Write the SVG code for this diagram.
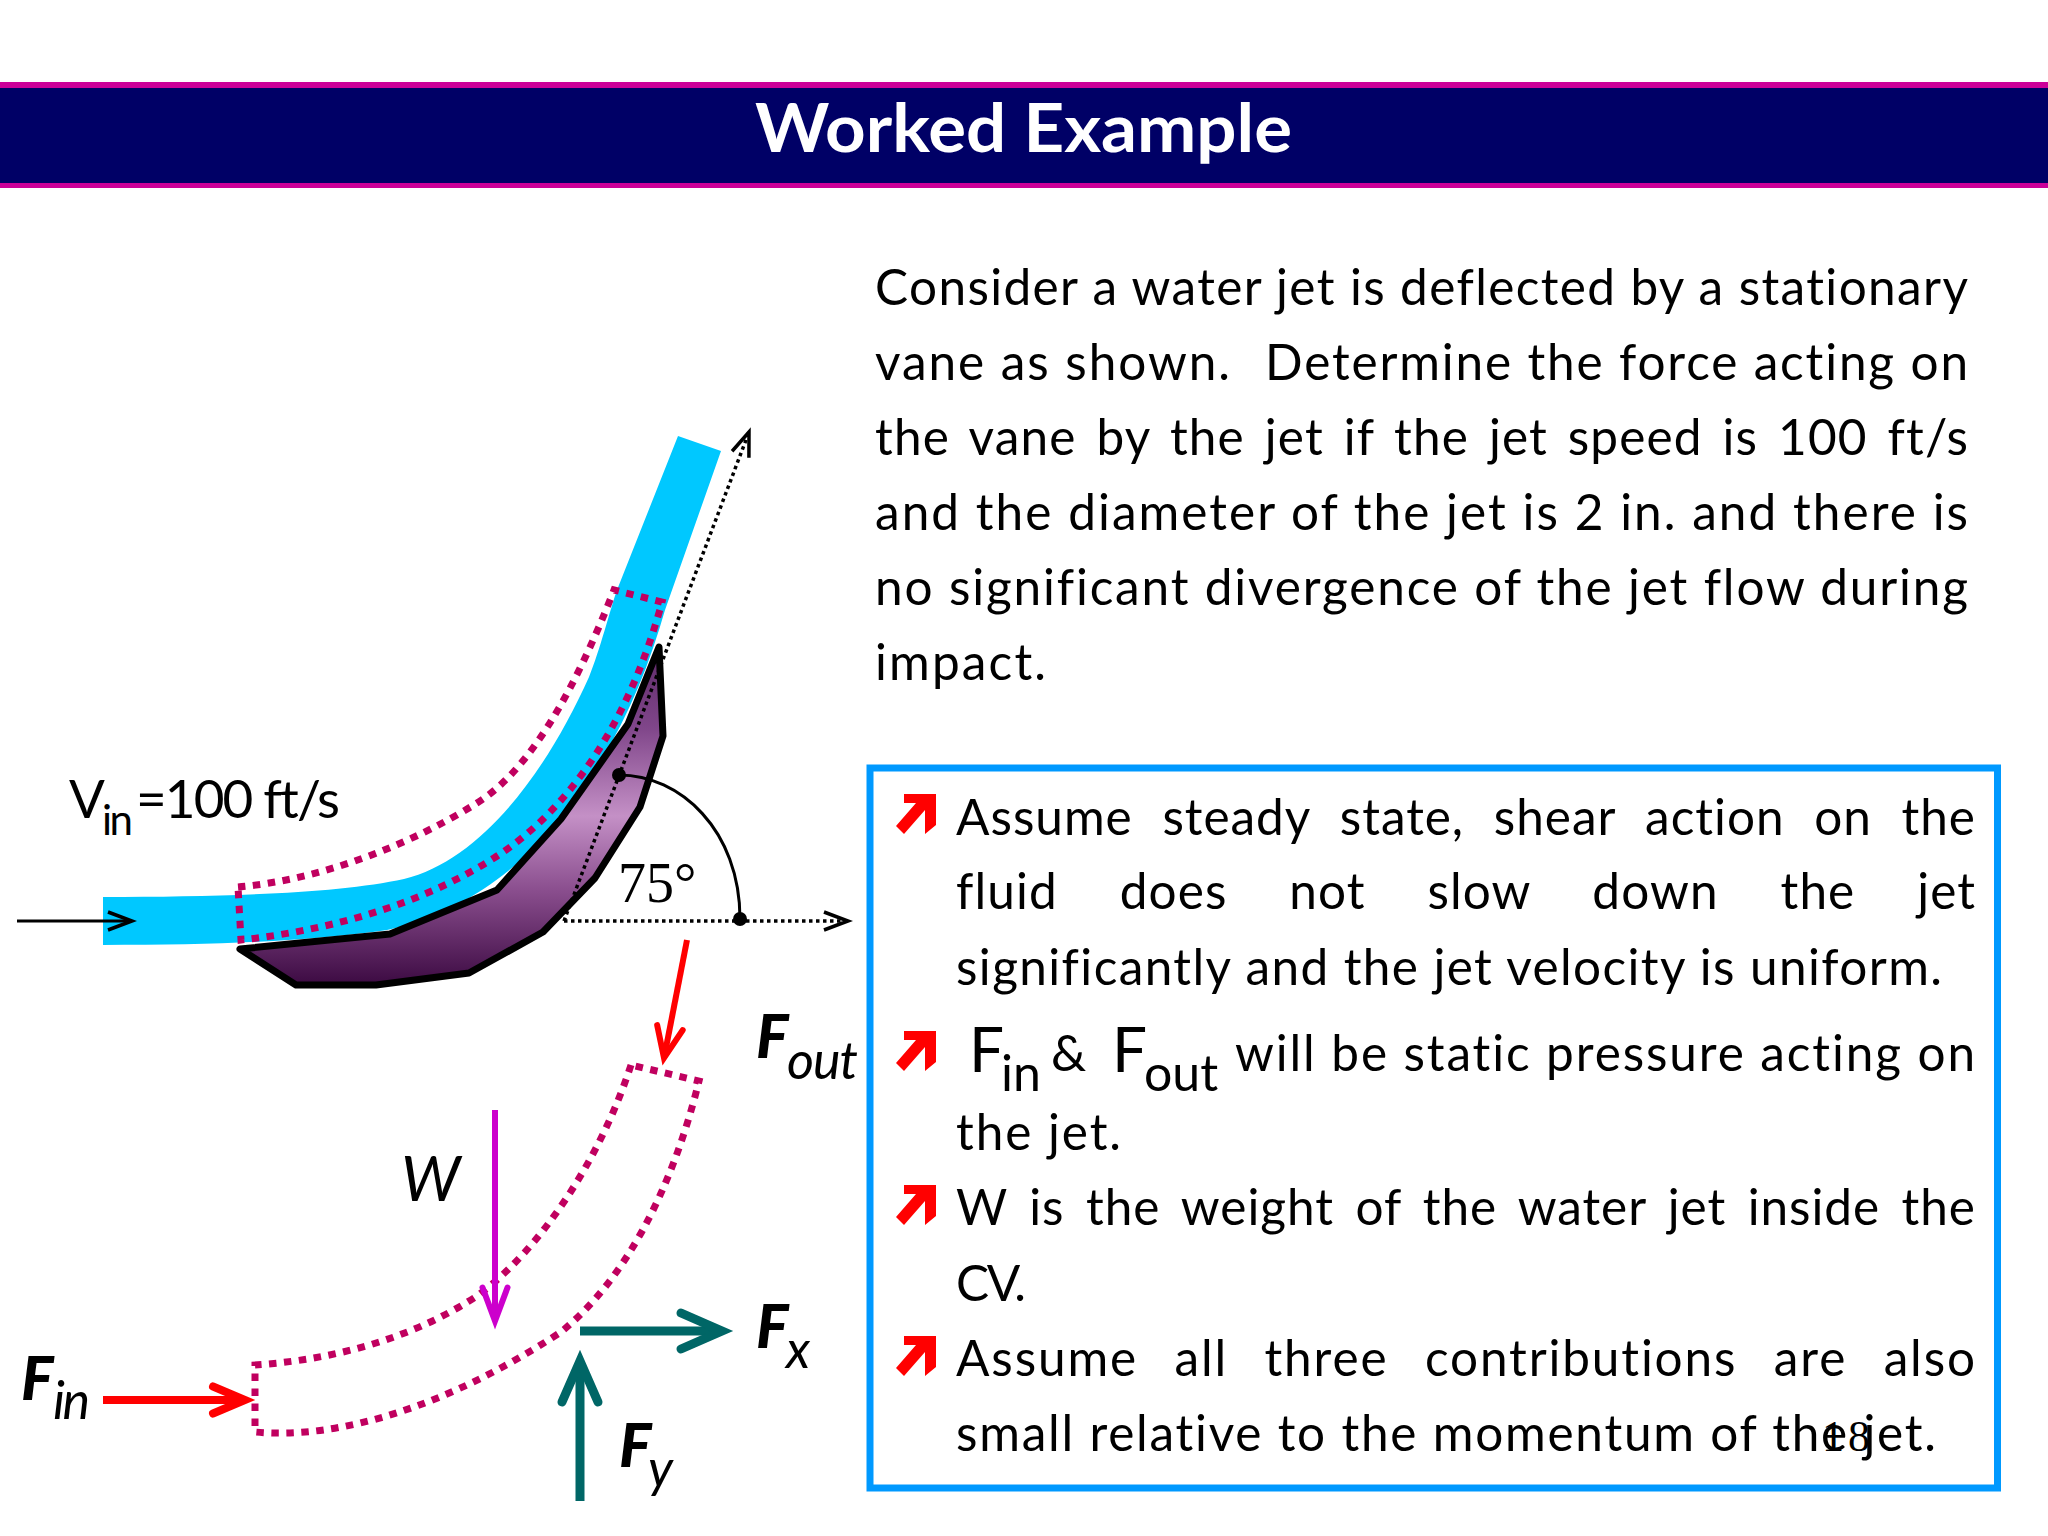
<svg xmlns="http://www.w3.org/2000/svg" xmlns:xlink="http://www.w3.org/1999/xlink" width="2048" height="1536" viewBox="0 0 2048 1536">
<style>
text{font-family:Lato,"Liberation Sans",sans-serif;fill:#000;font-variant-ligatures:none}
.b{font-size:49.500px}
.sub{font-size:50px}
.bigF{font-size:62px}
.lab{font-size:61px;font-weight:900;font-style:italic}
.labs{font-size:52px;font-style:italic}
.cv{fill:none;stroke:#c0005f;stroke-width:7;stroke-dasharray:7.5 7.5}
.dot{fill:none;stroke:#000;stroke-width:3.5;stroke-dasharray:3.5 3.5}
.thin{fill:none;stroke:#000;stroke-width:3}
</style>
<defs>
<linearGradient id="vaneGrad" gradientUnits="userSpaceOnUse" x1="0" y1="647" x2="0" y2="985">
<stop offset="0" stop-color="#5e2a68"/>
<stop offset="0.24" stop-color="#80468a"/>
<stop offset="0.5" stop-color="#c490c6"/>
<stop offset="0.72" stop-color="#8a4e8e"/>
<stop offset="1" stop-color="#3c0a42"/>
</linearGradient>
<marker id="aBlack" markerUnits="userSpaceOnUse" markerWidth="40" markerHeight="40" viewBox="-34 -20 40 40" refX="0" refY="0" orient="auto"><path d="M-24 -9 L0 0 L-24 9" fill="none" stroke="#000" stroke-width="3.5"/></marker>
<marker id="aRed" markerUnits="userSpaceOnUse" markerWidth="70" markerHeight="50" viewBox="-50 -25 70 50" refX="0" refY="0" orient="auto"><path d="M-31 -13 L0 0 L-31 13" fill="none" stroke="#f00" stroke-width="6" stroke-linecap="round"/></marker>
<marker id="aMag" markerUnits="userSpaceOnUse" markerWidth="70" markerHeight="50" viewBox="-50 -25 70 50" refX="0" refY="0" orient="auto"><path d="M-33.500 -12.500 L0 0 L-33.500 12.500" fill="none" stroke="#c0c" stroke-width="6" stroke-linecap="round"/></marker>
<marker id="aRedB" markerUnits="userSpaceOnUse" markerWidth="80" markerHeight="50" viewBox="-55 -25 80 50" refX="0" refY="0" orient="auto"><path d="M-32 -13.500 L0 0 L-32 13.500" fill="none" stroke="#f00" stroke-width="8" stroke-linecap="round"/></marker>
<marker id="aTeal" markerUnits="userSpaceOnUse" markerWidth="90" markerHeight="60" viewBox="-65 -30 90 60" refX="0" refY="0" orient="auto"><path d="M-41 -18 L0 0 L-41 18" fill="none" stroke="#006666" stroke-width="9" stroke-linecap="round"/></marker>
<polygon id="bullet" points="8,0 40,0 40,31 29,40 29,16 8,40 0,32 20,9 8,9" fill="#f00"/>
</defs>
<rect width="2048" height="1536" fill="#fff"/>
<g id="header">
<rect x="0" y="82" width="2048" height="106" fill="#cc0099"/>
<rect x="0" y="88" width="2048" height="95" fill="#000066"/>
<text x="755" y="152" font-size="66" font-weight="700" textLength="537" lengthAdjust="spacingAndGlyphs" style="fill:#fff">Worked Example</text>
</g>
<g id="problem-text">
<text class="b" x="875" y="305" textLength="1093">Consider a water jet is deflected by a stationary</text>
<text class="b" x="875" y="380" textLength="355">vane as shown.</text>
<text class="b" x="1265" y="380" textLength="703">Determine the force acting on</text>
<text class="b" x="875" y="455" textLength="1093" style="word-spacing:6px">the vane by the jet if the jet speed is 100 ft/s</text>
<text class="b" x="875" y="530" textLength="1093">and the diameter of the jet is 2 in. and there is</text>
<text class="b" x="875" y="605" textLength="1093">no significant divergence of the jet flow during</text>
<text class="b" x="875" y="680" textLength="171">impact.</text>
</g>
<g id="assumptions">
<rect x="870" y="768" width="1127.500" height="720" fill="#fff" stroke="#0099ff" stroke-width="7"/>
<use xlink:href="#bullet" x="896" y="794"/>
<use xlink:href="#bullet" x="896" y="1031"/>
<use xlink:href="#bullet" x="896" y="1185"/>
<use xlink:href="#bullet" x="896" y="1336"/>
<text class="b" x="956" y="835" textLength="1019" style="word-spacing:16px">Assume steady state, shear action on the</text>
<text class="b" x="956" y="909" textLength="1019" style="word-spacing:48px">fluid does not slow down the jet</text>
<text class="b" x="956" y="985" textLength="986">significantly and the jet velocity is uniform.</text>
<text class="bigF" x="969" y="1072">F</text>
<text class="sub" x="1001" y="1091">in</text>
<text class="b" x="1051" y="1071">&amp;</text>
<text class="bigF" x="1112" y="1072">F</text>
<text class="sub" x="1144" y="1091">out</text>
<text class="b" x="1235" y="1071" textLength="740">will be static pressure acting on</text>
<text class="b" x="956" y="1150" textLength="165">the jet.</text>
<text class="b" x="956" y="1225" textLength="1019" style="word-spacing:8px">W is the weight of the water jet inside the</text>
<text class="b" x="956" y="1301" textLength="70">CV.</text>
<text class="b" x="956" y="1376" textLength="1019" style="word-spacing:22px">Assume all three contributions are also</text>
<text class="b" x="956" y="1451" textLength="980">small relative to the momentum of the jet.</text>
<text x="1822" y="1451" font-size="44" textLength="48" style="font-family:'Liberation Serif',serif">18</text>
</g>
<g id="jet">
<path d="M103 897 C230 897 340 893 404 879 C480 860 545 775 589 677 C600 650 610 610 617 590 L678 436 L721 451 L665 610 C645 680 615 750 561 819 C520 868 460 915 387 930 C320 940 230 945 103 945 Z" fill="#00c8ff"/>
</g>
<g id="vane">
<polygon points="240,949 390,934 497,890 561,819 628,724 659,647 663,736 640,807 595,878 543,932 469,973 376,985 296,985" fill="url(#vaneGrad)" stroke="#000" stroke-width="7" stroke-linejoin="round"/>
</g>
<g id="control-volume-top">
<path class="cv" d="M238 887 C320 880 410 845 477 803 C530 770 575 690 614 590 L662 602 C630 720 570 810 494 858 C420 905 330 930 241 940 Z"/>
</g>
<g id="control-volume-bottom">
<path class="cv" d="M631 1065 C600 1160 540 1250 477 1296 C410 1340 330 1360 255 1365 L255 1432 C340 1440 450 1405 561 1332 C625 1280 672 1190 699 1081 Z"/>
</g>
<g id="connectors">
<line class="thin" x1="17" y1="921" x2="132" y2="921" marker-end="url(#aBlack)"/>
<line class="dot" x1="564" y1="921" x2="848" y2="921" marker-end="url(#aBlack)"/>
<line class="dot" x1="564" y1="921" x2="749" y2="432" marker-end="url(#aBlack)"/>
<path class="thin" d="M619 775 C680 775 740 830 740 919"/>
<line x1="687" y1="940" x2="664" y2="1058" stroke="#f00" stroke-width="6" marker-end="url(#aRed)"/>
<line x1="495" y1="1110" x2="495" y2="1321" stroke="#c0c" stroke-width="6" marker-end="url(#aMag)"/>
<line x1="103" y1="1400" x2="245" y2="1400" stroke="#f00" stroke-width="8" marker-end="url(#aRedB)"/>
<line x1="580" y1="1331" x2="722" y2="1331" stroke="#006666" stroke-width="9" marker-end="url(#aTeal)"/>
<line x1="580" y1="1501" x2="580" y2="1361" stroke="#006666" stroke-width="9" marker-end="url(#aTeal)"/>
</g>
<g id="angle">
<circle cx="619" cy="775" r="7"/>
<circle cx="740" cy="919" r="7"/>
<text x="618" y="902" font-size="56" style="font-family:'Liberation Serif',serif">75°</text>
</g>
<g id="labels">
<text x="69" y="818" font-size="53">V</text>
<text x="102" y="835" font-size="42" textLength="31">in</text>
<text x="136" y="818" font-size="53" textLength="204">=100 ft/s</text>
<text class="lab" x="756" y="1058">F</text><text class="labs" x="787" y="1079" textLength="71">out</text>
<text x="401" y="1201" font-size="62" font-style="italic" textLength="60">W</text>
<text class="lab" x="21" y="1400">F</text><text class="labs" x="53" y="1419" textLength="37">in</text>
<text class="lab" x="756" y="1348">F</text><text class="labs" x="786" y="1368" textLength="25">x</text>
<text class="lab" x="619" y="1467">F</text><text class="labs" x="648" y="1487" textLength="25">y</text>
</g>
</svg>
